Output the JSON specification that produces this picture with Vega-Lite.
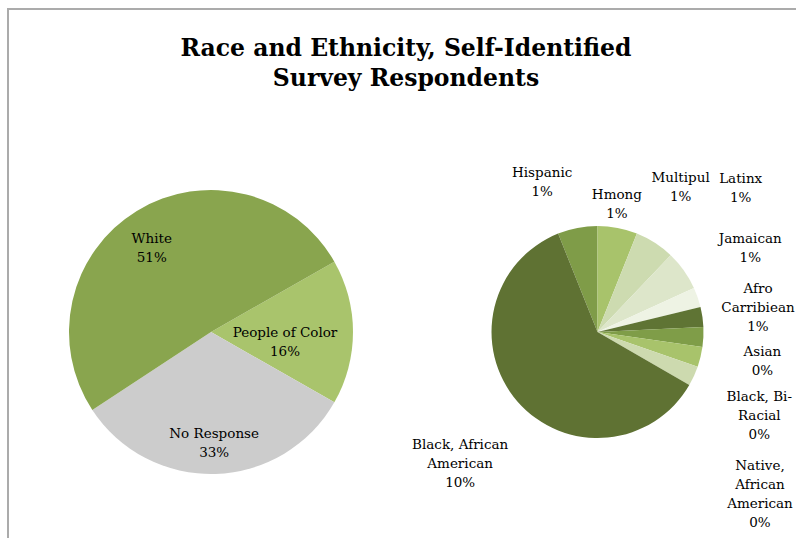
{
  "$schema": "https://vega.github.io/schema/vega-lite/v6.json",
  "width": 788,
  "height": 529,
  "autosize": "none",
  "padding": {"left": 8, "top": 9, "right": 0, "bottom": 0},
  "background": "white",
  "view": {"stroke": "#ababab", "strokeWidth": 2, "strokeDash": [788, 1317, 529]},
  "title": {
    "text": ["Race and Ethnicity, Self-Identified", "Survey Respondents"],
    "font": "DejaVu Serif",
    "fontSize": 23.5,
    "fontWeight": "bold",
    "lineHeight": 30,
    "color": "#000000",
    "anchor": "middle",
    "frame": "group",
    "offset": -81,
    "dx": 4
  },
  "datasets": {
    "main": [
      {"pie": "main", "name": "People of Color", "count": 33, "order": 1, "label": "People of Color\n16%"},
      {"pie": "main", "name": "No Response", "count": 65, "order": 2, "label": "No Response\n33%"},
      {"pie": "main", "name": "White", "count": 102, "order": 3, "label": "White\n51%"}
    ],
    "detail": [
      {"pie": "detail", "name": "Hispanic", "count": 2, "order": 1, "label": "Hispanic\n1%"},
      {"pie": "detail", "name": "Hmong", "count": 2, "order": 2, "label": "Hmong\n1%"},
      {"pie": "detail", "name": "Multipul", "count": 2, "order": 3, "label": "Multipul\n1%"},
      {"pie": "detail", "name": "Latinx", "count": 2, "order": 4, "label": "Latinx\n1%"},
      {"pie": "detail", "name": "Jamaican", "count": 1, "order": 5, "label": "Jamaican\n1%"},
      {"pie": "detail", "name": "Afro Carribiean", "count": 1, "order": 6, "label": "Afro\nCarribiean\n1%"},
      {"pie": "detail", "name": "Asian", "count": 1, "order": 7, "label": "Asian\n0%"},
      {"pie": "detail", "name": "Black, Bi-Racial", "count": 1, "order": 8, "label": "Black, Bi-\nRacial\n0%"},
      {"pie": "detail", "name": "Native, African American", "count": 1, "order": 9, "label": "Native,\nAfrican\nAmerican\n0%"},
      {"pie": "detail", "name": "Black, African American", "count": 20, "order": 10, "label": "Black, African\nAmerican\n10%"}
    ]
  },
  "resolve": {"scale": {"theta": "independent", "color": "independent"}},
  "layer": [
    {
      "data": {"name": "main"},
      "mark": {"type": "arc", "radius": 142},
      "encoding": {
        "x": {"field": "pie", "type": "nominal", "scale": {"type": "point", "domain": ["main", "detail"], "range": [203, 589.5], "padding": 0}, "axis": null},
        "y": {"field": "pie", "type": "nominal", "scale": {"type": "point", "domain": ["main", "detail"], "range": [323, 323], "padding": 0}, "axis": null},
        "theta": {"field": "count", "type": "quantitative", "stack": true, "scale": {"domain": [0, 200], "range": [1.05243, 7.33562]}},
        "order": {"field": "order", "type": "quantitative"},
        "color": {"field": "name", "type": "nominal", "legend": null,
          "scale": {"domain": ["People of Color", "No Response", "White"], "range": ["#a9c46c", "#cccccc", "#89a54e"]}}
      }
    },
    {
      "data": {"name": "detail"},
      "mark": {"type": "arc", "radius": 106},
      "encoding": {
        "x": {"field": "pie", "type": "nominal", "axis": null},
        "y": {"field": "pie", "type": "nominal", "axis": null},
        "theta": {"field": "count", "type": "quantitative", "stack": true, "scale": {"domain": [0, 33], "range": [-0.3808, 5.90239]}},
        "order": {"field": "order", "type": "quantitative"},
        "color": {"field": "name", "type": "nominal", "legend": null,
          "scale": {"domain": ["Hispanic", "Hmong", "Multipul", "Latinx", "Jamaican", "Afro Carribiean", "Asian", "Black, Bi-Racial", "Native, African American", "Black, African American"],
                    "range": ["#7f9c48", "#a8c36b", "#cddbb0", "#dde6ca", "#eef3e4", "#5f7434", "#7f9d48", "#a8c36b", "#cddaaf", "#5f7233"]}}
      }
    },
    {
      "data": {"name": "main"},
      "mark": {"type": "text", "radius": 100, "dx": -7, "dy": -7.5, "font": "DejaVu Serif", "fontSize": 13.5, "lineBreak": "\n", "lineHeight": 19, "color": "#000000", "baseline": "middle", "align": "center"},
      "encoding": {
        "x": {"field": "pie", "type": "nominal", "axis": null},
        "y": {"field": "pie", "type": "nominal", "axis": null},
        "theta": {"field": "count", "type": "quantitative", "stack": true, "scale": {"domain": [0, 200], "range": [1.05243, 7.33562]}},
        "order": {"field": "order", "type": "quantitative"},
        "text": {"condition": {"test": "datum.name === 'White'", "field": "label"}, "value": ""}
      }
    },
    {
      "data": {"name": "main"},
      "mark": {"type": "text", "radius": 100, "dx": -26, "dy": 1.5, "font": "DejaVu Serif", "fontSize": 13.5, "lineBreak": "\n", "lineHeight": 19, "color": "#000000", "baseline": "middle", "align": "center"},
      "encoding": {
        "x": {"field": "pie", "type": "nominal", "axis": null},
        "y": {"field": "pie", "type": "nominal", "axis": null},
        "theta": {"field": "count", "type": "quantitative", "stack": true, "scale": {"domain": [0, 200], "range": [1.05243, 7.33562]}},
        "order": {"field": "order", "type": "quantitative"},
        "text": {"condition": {"test": "datum.name === 'People of Color'", "field": "label"}, "value": ""}
      }
    },
    {
      "data": {"name": "main"},
      "mark": {"type": "text", "radius": 100, "dx": 0, "dy": 2.5, "font": "DejaVu Serif", "fontSize": 13.5, "lineBreak": "\n", "lineHeight": 19, "color": "#000000", "baseline": "middle", "align": "center"},
      "encoding": {
        "x": {"field": "pie", "type": "nominal", "axis": null},
        "y": {"field": "pie", "type": "nominal", "axis": null},
        "theta": {"field": "count", "type": "quantitative", "stack": true, "scale": {"domain": [0, 200], "range": [1.05243, 7.33562]}},
        "order": {"field": "order", "type": "quantitative"},
        "text": {"condition": {"test": "datum.name === 'No Response'", "field": "label"}, "value": ""}
      }
    },
    {
      "data": {"name": "detail"},
      "mark": {"type": "text", "radius": 150, "dx": -27, "dy": -11.5, "font": "DejaVu Serif", "fontSize": 13.5, "lineBreak": "\n", "lineHeight": 19, "color": "#000000", "baseline": "middle", "align": "center"},
      "encoding": {
        "x": {"field": "pie", "type": "nominal", "axis": null},
        "y": {"field": "pie", "type": "nominal", "axis": null},
        "theta": {"field": "count", "type": "quantitative", "stack": true, "scale": {"domain": [0, 33], "range": [-0.3808, 5.90239]}},
        "order": {"field": "order", "type": "quantitative"},
        "text": {"condition": {"test": "datum.name === 'Hispanic'", "field": "label"}, "value": ""}
      }
    },
    {
      "data": {"name": "detail"},
      "mark": {"type": "text", "radius": 150, "dx": -9, "dy": 10.5, "font": "DejaVu Serif", "fontSize": 13.5, "lineBreak": "\n", "lineHeight": 19, "color": "#000000", "baseline": "middle", "align": "center"},
      "encoding": {
        "x": {"field": "pie", "type": "nominal", "axis": null},
        "y": {"field": "pie", "type": "nominal", "axis": null},
        "theta": {"field": "count", "type": "quantitative", "stack": true, "scale": {"domain": [0, 33], "range": [-0.3808, 5.90239]}},
        "order": {"field": "order", "type": "quantitative"},
        "text": {"condition": {"test": "datum.name === 'Hmong'", "field": "label"}, "value": ""}
      }
    },
    {
      "data": {"name": "detail"},
      "mark": {"type": "text", "radius": 150, "dx": 2, "dy": -27.5, "font": "DejaVu Serif", "fontSize": 13.5, "lineBreak": "\n", "lineHeight": 19, "color": "#000000", "baseline": "middle", "align": "center"},
      "encoding": {
        "x": {"field": "pie", "type": "nominal", "axis": null},
        "y": {"field": "pie", "type": "nominal", "axis": null},
        "theta": {"field": "count", "type": "quantitative", "stack": true, "scale": {"domain": [0, 33], "range": [-0.3808, 5.90239]}},
        "order": {"field": "order", "type": "quantitative"},
        "text": {"condition": {"test": "datum.name === 'Multipul'", "field": "label"}, "value": ""}
      }
    },
    {
      "data": {"name": "detail"},
      "mark": {"type": "text", "radius": 150, "dx": 21, "dy": -65.5, "font": "DejaVu Serif", "fontSize": 13.5, "lineBreak": "\n", "lineHeight": 19, "color": "#000000", "baseline": "middle", "align": "center"},
      "encoding": {
        "x": {"field": "pie", "type": "nominal", "axis": null},
        "y": {"field": "pie", "type": "nominal", "axis": null},
        "theta": {"field": "count", "type": "quantitative", "stack": true, "scale": {"domain": [0, 33], "range": [-0.3808, 5.90239]}},
        "order": {"field": "order", "type": "quantitative"},
        "text": {"condition": {"test": "datum.name === 'Latinx'", "field": "label"}, "value": ""}
      }
    },
    {
      "data": {"name": "detail"},
      "mark": {"type": "text", "radius": 150, "dx": 11, "dy": -43.5, "font": "DejaVu Serif", "fontSize": 13.5, "lineBreak": "\n", "lineHeight": 19, "color": "#000000", "baseline": "middle", "align": "center"},
      "encoding": {
        "x": {"field": "pie", "type": "nominal", "axis": null},
        "y": {"field": "pie", "type": "nominal", "axis": null},
        "theta": {"field": "count", "type": "quantitative", "stack": true, "scale": {"domain": [0, 33], "range": [-0.3808, 5.90239]}},
        "order": {"field": "order", "type": "quantitative"},
        "text": {"condition": {"test": "datum.name === 'Jamaican'", "field": "label"}, "value": ""}
      }
    },
    {
      "data": {"name": "detail"},
      "mark": {"type": "text", "radius": 150, "dx": 12, "dy": -22, "font": "DejaVu Serif", "fontSize": 13.5, "lineBreak": "\n", "lineHeight": 19, "color": "#000000", "baseline": "middle", "align": "center"},
      "encoding": {
        "x": {"field": "pie", "type": "nominal", "axis": null},
        "y": {"field": "pie", "type": "nominal", "axis": null},
        "theta": {"field": "count", "type": "quantitative", "stack": true, "scale": {"domain": [0, 33], "range": [-0.3808, 5.90239]}},
        "order": {"field": "order", "type": "quantitative"},
        "text": {"condition": {"test": "datum.name === 'Afro Carribiean'", "field": "label"}, "value": ""}
      }
    },
    {
      "data": {"name": "detail"},
      "mark": {"type": "text", "radius": 150, "dx": 15, "dy": 12.5, "font": "DejaVu Serif", "fontSize": 13.5, "lineBreak": "\n", "lineHeight": 19, "color": "#000000", "baseline": "middle", "align": "center"},
      "encoding": {
        "x": {"field": "pie", "type": "nominal", "axis": null},
        "y": {"field": "pie", "type": "nominal", "axis": null},
        "theta": {"field": "count", "type": "quantitative", "stack": true, "scale": {"domain": [0, 33], "range": [-0.3808, 5.90239]}},
        "order": {"field": "order", "type": "quantitative"},
        "text": {"condition": {"test": "datum.name === 'Asian'", "field": "label"}, "value": ""}
      }
    },
    {
      "data": {"name": "detail"},
      "mark": {"type": "text", "radius": 150, "dx": 16, "dy": 30, "font": "DejaVu Serif", "fontSize": 13.5, "lineBreak": "\n", "lineHeight": 19, "color": "#000000", "baseline": "middle", "align": "center"},
      "encoding": {
        "x": {"field": "pie", "type": "nominal", "axis": null},
        "y": {"field": "pie", "type": "nominal", "axis": null},
        "theta": {"field": "count", "type": "quantitative", "stack": true, "scale": {"domain": [0, 33], "range": [-0.3808, 5.90239]}},
        "order": {"field": "order", "type": "quantitative"},
        "text": {"condition": {"test": "datum.name === 'Black, Bi-Racial'", "field": "label"}, "value": ""}
      }
    },
    {
      "data": {"name": "detail"},
      "mark": {"type": "text", "radius": 150, "dx": 26, "dy": 71.5, "font": "DejaVu Serif", "fontSize": 13.5, "lineBreak": "\n", "lineHeight": 19, "color": "#000000", "baseline": "middle", "align": "center"},
      "encoding": {
        "x": {"field": "pie", "type": "nominal", "axis": null},
        "y": {"field": "pie", "type": "nominal", "axis": null},
        "theta": {"field": "count", "type": "quantitative", "stack": true, "scale": {"domain": [0, 33], "range": [-0.3808, 5.90239]}},
        "order": {"field": "order", "type": "quantitative"},
        "text": {"condition": {"test": "datum.name === 'Native, African American'", "field": "label"}, "value": ""}
      }
    },
    {
      "data": {"name": "detail"},
      "mark": {"type": "text", "radius": 150, "dx": -24, "dy": 15, "font": "DejaVu Serif", "fontSize": 13.5, "lineBreak": "\n", "lineHeight": 19, "color": "#000000", "baseline": "middle", "align": "center"},
      "encoding": {
        "x": {"field": "pie", "type": "nominal", "axis": null},
        "y": {"field": "pie", "type": "nominal", "axis": null},
        "theta": {"field": "count", "type": "quantitative", "stack": true, "scale": {"domain": [0, 33], "range": [-0.3808, 5.90239]}},
        "order": {"field": "order", "type": "quantitative"},
        "text": {"condition": {"test": "datum.name === 'Black, African American'", "field": "label"}, "value": ""}
      }
    }
  ]
}
